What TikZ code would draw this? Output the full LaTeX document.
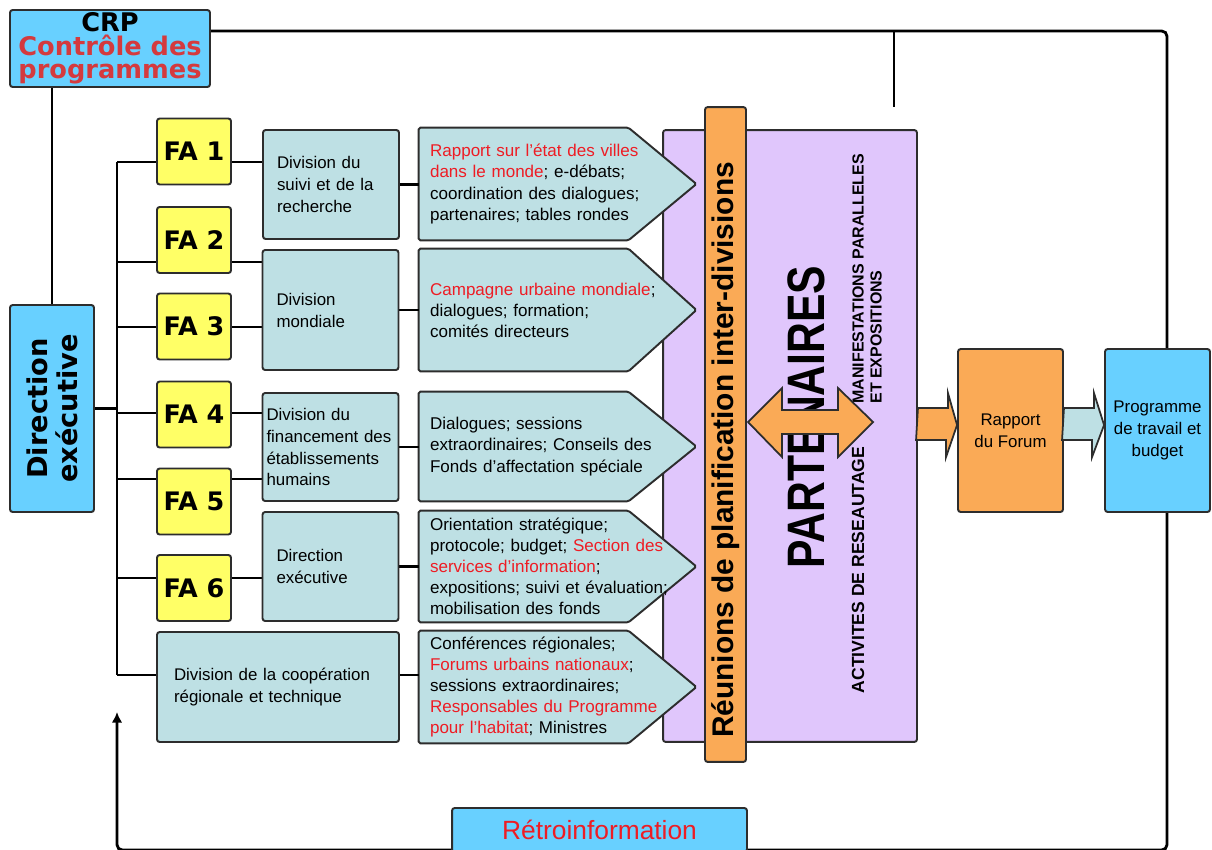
\documentclass[tikz,border=0pt]{standalone}
\usepackage{fontspec}
\setmainfont{Liberation Sans}
\newfontfamily\dejavu{DejaVu Sans}
\usepackage{graphicx}
\usepackage{tikz}
\usetikzlibrary{arrows.meta, positioning, backgrounds}
\usepackage{xcolor}

\definecolor{celeste}{RGB}{104,208,255}
\definecolor{giallo}{RGB}{255,255,102}
\definecolor{acqua}{RGB}{190,224,228}
\definecolor{lilla}{RGB}{224,198,252}
\definecolor{arancio}{RGB}{250,170,86}
\definecolor{rosso}{RGB}{238,28,36}
\definecolor{rossoscuro}{RGB}{212,58,62}
\definecolor{bordo}{RGB}{45,45,45}

\newcommand{\evid}[1]{\textcolor{rosso}{#1}}

\begin{document}
\begin{tikzpicture}[
            x = 0.02cm, y = -0.02cm, % 1 unita = 1 pixel
            > = {Latex[length=6pt,width=6pt]}, % punta freccia
            line width = 1.6pt,
            every node/.style={font=\fontsize{9.6}{12.5}\selectfont}
        ]

        \tikzstyle{riquadro}=[
            draw = bordo,
            line width = 1.1pt,
            rounded corners = 1.5pt,
            inner sep = 0pt
        ]
        \tikzstyle{fabox}=[riquadro, fill=giallo, minimum width=14.8mm, minimum height=13.2mm,
            font=\dejavu\bfseries\fontsize{14.5}{16}\selectfont]
        \tikzstyle{divbox}=[riquadro, fill=acqua, align=left, inner xsep=2.8mm, text width=21.6mm]
        \tikzstyle{freccia}=[inner xsep=2mm, inner ysep=0pt, align=left, text width=51mm,
            font=\fontsize{9.7}{12}\selectfont]
        \tikzstyle{punta}=[draw=bordo, line width=1.1pt, fill=acqua, rounded corners=1pt]
        \tikzstyle{blocco}=[draw=bordo, line width=1pt]
        \tikzstyle{collega}=[draw=black, line width=1.6pt]

        \useasboundingbox (0,0) rectangle (1212,849);

        % Controllo e direzione
        \node[riquadro, fill=celeste, minimum width=40mm, minimum height=15.4mm, align=center,
            font=\dejavu\bfseries\fontsize{14.6}{13.3}\selectfont] (crp) at (110,48.5)
            {CRP\\\textcolor{rossoscuro}{Contrôle des}\\\textcolor{rossoscuro}{programmes}};
        \node[riquadro, fill=celeste, minimum width=16.8mm, minimum height=41.4mm] (dir) at (52,408.5) {};
        \node[rotate=90, align=center, font=\dejavu\bfseries\fontsize{15.5}{17}\selectfont]
            (dirtxt) at (dir.center) {Direction\\exécutive};

        % Nodi FA
        \node[fabox] (fa1) at (194,151.5) {FA 1};
        \node[fabox] (fa2) at (194,240) {FA 2};
        \node[fabox] (fa3) at (194,326.5) {FA 3};
        \node[fabox] (fa4) at (194,414.5) {FA 4};
        \node[fabox] (fa5) at (194,501.5) {FA 5};
        \node[fabox] (fa6) at (194,588) {FA 6};

        % Divisioni
        \node[divbox, minimum height=21.8mm] (div1) at (331,184.5) {Division du\\suivi et de la\\recherche};
        \node[divbox, minimum height=24mm] (div2) at (330.5,310) {Division\\mondiale};
        \node[divbox, minimum height=21.6mm, inner xsep=0.8mm, text width=25.6mm] (div3) at (330.5,447)
            {Division du\\financement des\\établissements\\humains};
        \node[divbox, minimum height=21.8mm] (div4) at (330.5,566.5) {Direction\\exécutive};
        \node[divbox, minimum height=22mm, inner xsep=3.4mm, text width=41.6mm] (div5) at (278,687)
            {Division de la coopération\\régionale et technique};

        % Attivita (frecce)
        \node[freccia, minimum height=22mm] (r1) at (557.5,184)
            {\evid{Rapport sur l'état des villes}\\\evid{dans le monde}; e-débats;\\coordination des dialogues;\\partenaires; tables rondes};
        \node[freccia, minimum height=24mm] (r2) at (557.5,310)
            {\evid{Campagne urbaine mondiale};\\dialogues; formation;\\comités directeurs};
        \node[freccia, minimum height=21.4mm] (r3) at (557.5,446.5)
            {Dialogues; sessions\\extraordinaires; Conseils des\\Fonds d'affectation spéciale};
        \node[freccia, minimum height=21.8mm] (r4) at (557.5,566.5)
            {Orientation stratégique;\\protocole; budget; \evid{Section des}\\\evid{services d'information};\\expositions; suivi et évaluation;\\mobilisation des fonds};
        \node[freccia, minimum height=22mm] (r5) at (557.5,687)
            {Conférences régionales;\\\evid{Forums urbains nationaux};\\sessions extraordinaires;\\\evid{Responsables du Programme}\\\evid{pour l'habitat}; Ministres};

        % Rapport et programme
        \node[riquadro, fill=arancio, minimum width=21mm, minimum height=32.6mm, align=center]
            (rapp) at (1010.5,430.5) {Rapport\\du Forum};
        \node[riquadro, fill=celeste, minimum width=21mm, minimum height=32.6mm, align=center]
            (prog) at (1157.5,430.5) {Programme\\de travail et\\budget};

        % Punti del bus
        \coordinate (b1) at (117,162);
        \coordinate (b2) at (117,262);
        \coordinate (b3) at (117,327);
        \coordinate (b4) at (117,413);
        \coordinate (b5) at (117,479);
        \coordinate (b6) at (117,578);
        \coordinate (b7) at (117,675);
        \coordinate (topR) at (1167,31);
        \coordinate (ramo) at (894,107);
        \coordinate (fbR) at (1167,850);
        \coordinate (fbL) at (117,850);
        \coordinate (fbT) at (117,712);
        \coordinate (ax) at (0,425);

        \begin{scope}[on background layer]
            % Partenaires
            \node[riquadro, fill=lilla, minimum width=50.8mm, minimum height=122.4mm] (partner) at (790,436) {};
            % pentagoni
            \filldraw[punta] (r1.north west) -- ([xshift=-13.6mm]r1.north east) -- (r1.east)
                -- ([xshift=-13.6mm]r1.south east) -- (r1.south west) -- cycle;
            \filldraw[punta] (r2.north west) -- ([xshift=-13.6mm]r2.north east) -- (r2.east)
                -- ([xshift=-13.6mm]r2.south east) -- (r2.south west) -- cycle;
            \filldraw[punta] (r3.north west) -- ([xshift=-13.6mm]r3.north east) -- (r3.east)
                -- ([xshift=-13.6mm]r3.south east) -- (r3.south west) -- cycle;
            \filldraw[punta] (r4.north west) -- ([xshift=-13.6mm]r4.north east) -- (r4.east)
                -- ([xshift=-13.6mm]r4.south east) -- (r4.south west) -- cycle;
            \filldraw[punta] (r5.north west) -- ([xshift=-13.6mm]r5.north east) -- (r5.east)
                -- ([xshift=-13.6mm]r5.south east) -- (r5.south west) -- cycle;

            % Collegamenti
            \draw[collega, rounded corners=3pt] (crp.east |- topR) -- (topR) -- (prog.north -| topR);
            \draw[collega] (ramo |- topR) -- (ramo);
            \draw[collega] (crp.south -| dir.north) -- (dir.north);
            \draw[collega] (b1) -- (b7);
            \draw[collega] (dir.east) -- (dir.east -| b1);
            \draw[collega] (b1) -- (div1.west |- b1);
            \draw[collega] (b2) -- (div2.west |- b2);
            \draw[collega] (b3) -- (div2.west |- b3);
            \draw[collega] (b4) -- (div3.west |- b4);
            \draw[collega] (b5) -- (div3.west |- b5);
            \draw[collega] (b6) -- (div4.west |- b6);
            \draw[collega] (b7) -- (div5.west |- b7);
            \draw[collega] (div1.east) -- (r1.west |- div1.east);
            \draw[collega] (div2.east) -- (r2.west |- div2.east);
            \draw[collega] (div3.east) -- (r3.west |- div3.east);
            \draw[collega] (div4.east) -- (r4.west |- div4.east);
            \draw[collega] (div5.east |- b7) -- (r5.west |- b7);
            \draw[collega, ->, rounded corners=3pt] (prog.south -| topR) -- (fbR) -- (fbL) -- (fbT); % ritorno
        \end{scope}

        % Riunioni inter-divisions
        \node[riquadro, fill=arancio, minimum width=8.2mm, minimum height=131mm] (riun) at (725.5,434.5) {};
        \node[rotate=90, font=\bfseries\fontsize{17}{20}\selectfont] (riuntxt) at (726,450)
            {Réunions de planification inter-divisions};

        % Testi dei partenaires
        \node[rotate=90, font=\bfseries\fontsize{30}{30}\selectfont] (parttxt) at (806,417)
            {\scalebox{0.81}[1]{PARTENAIRES}};
        \node[rotate=90, font=\bfseries\fontsize{10}{11}\selectfont] (reseau) at (858,570)
            {ACTIVITES DE RESEAUTAGE};
        \node[rotate=90, anchor=north west, align=left, inner sep=0pt,
            font=\bfseries\fontsize{9.1}{10.3}\selectfont] (manif) at (851,405)
            {MANIFESTATIONS PARALLELES\\ET EXPOSITIONS};
        \filldraw[blocco, fill=arancio] (748,422) -- (782,388) -- (782,410) -- (838,410) -- (838,388)
            -- (873,422) -- (838,457) -- (838,434) -- (782,434) -- (782,457) -- cycle;

        % Frecce larghe
        \filldraw[blocco, fill=arancio] (partner.east |- ax) ++(0,-17) -- ++(30,0) -- ++(0,-15)
            -- (rapp.west |- ax) -- ++(-11,32) -- ++(0,-17) -- ++(-30,0) -- cycle;
        \filldraw[blocco, fill=acqua] (rapp.east |- ax) ++(0,-17) -- ++(30,0) -- ++(0,-15)
            -- (prog.west |- ax) -- ++(-12,32) -- ++(0,-17) -- ++(-30,0) -- cycle;

        % Retroinformation
        \node[riquadro, fill=celeste, minimum width=59mm, minimum height=8.8mm, text=rosso,
            font=\fontsize{15}{18}\selectfont] (retro) at (599.5,830) {Rétroinformation};

\end{tikzpicture}
\end{document}
